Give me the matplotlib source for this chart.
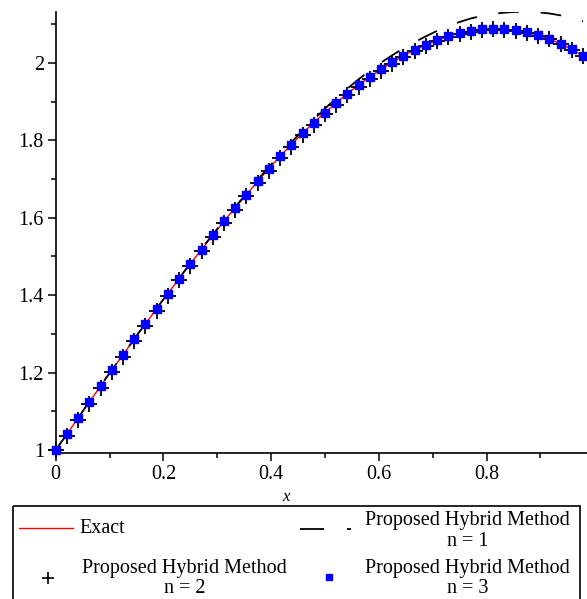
import matplotlib
matplotlib.use("Agg")
import matplotlib.pyplot as plt
from matplotlib.patches import Rectangle

# ---------------- data ----------------
x_vals = [0.0000, 0.0208, 0.0417, 0.0625, 0.0833, 0.1042, 0.1250, 0.1458,
          0.1667, 0.1875, 0.2083, 0.2292, 0.2500, 0.2708, 0.2917, 0.3125,
          0.3333, 0.3542, 0.3750, 0.3958, 0.4167, 0.4375, 0.4583, 0.4792,
          0.5000, 0.5208, 0.5417, 0.5625, 0.5833, 0.6042, 0.6250, 0.6458,
          0.6667, 0.6875, 0.7083, 0.7292, 0.7500, 0.7708, 0.7917, 0.8125,
          0.8333, 0.8542, 0.8750, 0.8958, 0.9167, 0.9375, 0.9583, 0.9792]

exact = [1.000, 1.041, 1.083, 1.124, 1.165, 1.206, 1.246, 1.286, 1.326, 1.365,
         1.404, 1.443, 1.481, 1.518, 1.555, 1.591, 1.626, 1.660, 1.694, 1.727,
         1.759, 1.789, 1.818, 1.846, 1.872, 1.897, 1.921, 1.943, 1.964, 1.984,
         2.002, 2.019, 2.034, 2.047, 2.059, 2.069, 2.077, 2.083, 2.087, 2.088,
         2.087, 2.084, 2.079, 2.072, 2.062, 2.050, 2.035, 2.018]

hybrid_n1 = [1.000, 1.041, 1.083, 1.125, 1.166, 1.207, 1.247, 1.287, 1.327, 1.366,
             1.405, 1.444, 1.482, 1.520, 1.557, 1.593, 1.628, 1.663, 1.698, 1.731,
             1.764, 1.795, 1.825, 1.854, 1.882, 1.909, 1.934, 1.958, 1.980, 2.001,
             2.020, 2.038, 2.054, 2.069, 2.083, 2.095, 2.106, 2.115, 2.122, 2.127,
             2.130, 2.132, 2.132, 2.131, 2.128, 2.123, 2.116, 2.108]

hybrid_n2 = [1.000, 1.036, 1.078, 1.119, 1.160, 1.201, 1.241, 1.281, 1.321, 1.360,
             1.399, 1.438, 1.476, 1.513, 1.550, 1.586, 1.621, 1.655, 1.689, 1.722,
             1.754, 1.784, 1.813, 1.841, 1.867, 1.892, 1.916, 1.938, 1.959, 1.979,
             1.998, 2.015, 2.030, 2.044, 2.056, 2.066, 2.075, 2.081, 2.085, 2.087,
             2.086, 2.083, 2.078, 2.071, 2.061, 2.049, 2.034, 2.017]

hybrid_n3 = [1.000, 1.041, 1.083, 1.124, 1.165, 1.206, 1.246, 1.286, 1.326, 1.365,
             1.404, 1.443, 1.481, 1.518, 1.555, 1.591, 1.626, 1.660, 1.694, 1.727,
             1.759, 1.789, 1.818, 1.846, 1.872, 1.897, 1.921, 1.943, 1.964, 1.984,
             2.002, 2.019, 2.034, 2.047, 2.059, 2.069, 2.077, 2.083, 2.087, 2.088,
             2.087, 2.084, 2.079, 2.072, 2.062, 2.050, 2.035, 2.018]

x_major = [0.0, 0.2, 0.4, 0.6, 0.8]
x_major_labels = ["0", "0.2", "0.4", "0.6", "0.8"]
x_minor = [0.1, 0.3, 0.5, 0.7, 0.9]
y_major = [1.0, 1.2, 1.4, 1.6, 1.8, 2.0]
y_major_labels = ["1", "1.2", "1.4", "1.6", "1.8", "2"]
y_minor = [1.1, 1.3, 1.5, 1.7, 1.9, 2.1]

labels = ["Exact", "Proposed Hybrid Method\nn = 1",
          "Proposed Hybrid Method\nn = 2", "Proposed Hybrid Method\nn = 3"]

# ---------------- figure ----------------
W, H = 587, 599
plt.rcParams['font.family'] = ['Liberation Serif', 'DejaVu Serif']
fig = plt.figure(figsize=(W / 100, H / 100), dpi=100)

ax_left, ax_right, ax_top, ax_bot = 55.7, 587.0, 11.7, 453.0
ax = fig.add_axes([ax_left / W, (H - ax_bot) / H,
                   (ax_right - ax_left) / W, (ax_bot - ax_top) / H])

dash = (0, (11.5, 12))
ax.plot(x_vals, exact, color='#ff0000', lw=1.0, zorder=2)
ax.plot(x_vals, hybrid_n1, color='black', lw=1.3, ls=dash, zorder=3)
ax.plot(x_vals, hybrid_n2, ls='none', marker='+', ms=11, mew=1.3,
        color='black', zorder=4, clip_on=False)
ax.plot(x_vals, hybrid_n3, ls='none', marker='s', ms=6, color='#0000ff',
        mec='#0000ff', zorder=5, clip_on=False)

ax.set_xlim(0, 0.9866)
ax.set_ylim(0.9922, 2.1325)

for s in ['top', 'right']:
    ax.spines[s].set_visible(False)
for s in ['left', 'bottom']:
    ax.spines[s].set_linewidth(1.2)

ax.set_xticks(x_major)
ax.set_xticklabels(x_major_labels)
ax.set_xticks(x_minor, minor=True)
ax.set_yticks(y_major)
ax.set_yticklabels(y_major_labels)
ax.set_yticks(y_minor, minor=True)
ax.tick_params(which='major', direction='out', length=6, width=1.1,
               labelsize=14.5, pad=2.5, colors='black')
ax.tick_params(which='minor', direction='out', length=3.8, width=1.1)

# ---------------- overlay (pixel coords) for x label and legend ----------------
ov = fig.add_axes([0, 0, 1, 1], zorder=10)
ov.set_xlim(0, W)
ov.set_ylim(H, 0)
ov.axis('off')
ov.patch.set_visible(False)

ov.text(285.5, 497, "x", style='italic', fontsize=12, ha='center', va='center')

ov.add_patch(Rectangle((13.3, 505.7), 580.3 - 13.3, 120, fill=False,
                       edgecolor='black', lw=1.2, clip_on=False))

fs_leg = 14.5
# Exact
ov.plot([19, 72.7], [528.3, 528.3], color='#ff0000', lw=1.0)
ov.text(79, 528.3, labels[0], fontsize=fs_leg, ha='left', va='center')
# n = 1
ov.plot([300, 351], [529, 529], color='black', lw=1.3, ls=(0, (13.3, 12.7)))
ov.text(467.4, 531, labels[1], fontsize=fs_leg, ha='center', va='center',
        multialignment='center', linespacing=1.1)
# n = 2
ov.plot([48.3], [577.7], ls='none', marker='+', ms=9, mew=1.2, color='black')
ov.text(184.5, 578.3, labels[2], fontsize=fs_leg, ha='center', va='center',
        multialignment='center', linespacing=1.1)
# n = 3
ov.plot([328.7], [576.7], ls='none', marker='s', ms=4, color='#0000ff',
        mec='#0000ff')
ov.text(467.4, 578.3, labels[3], fontsize=fs_leg, ha='center', va='center',
        multialignment='center', linespacing=1.1)

fig.savefig("out.png", dpi=100)
